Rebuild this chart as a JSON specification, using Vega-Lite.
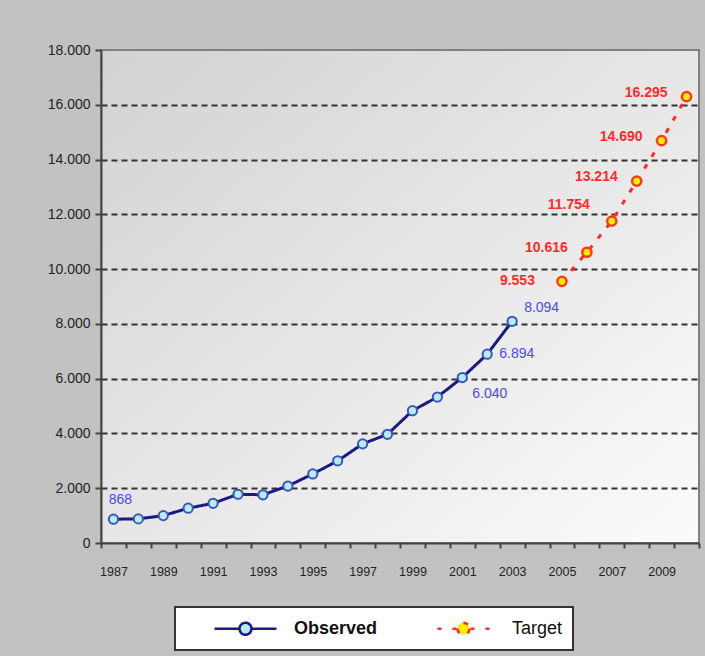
{
  "$schema": "https://vega.github.io/schema/vega-lite/v6.json",
  "width": 598,
  "height": 493,
  "autosize": {"type": "none"},
  "padding": {"left": 101, "top": 50, "right": 6, "bottom": 113},
  "background": "#c2c2c2",
  "config": {
    "locale": {"number": {"decimal": ",", "thousands": ".", "grouping": [3], "currency": ["", ""]}},
    "font": "Liberation Sans",
    "view": {
      "fill": {"gradient": "linear", "x1": 0, "y1": 0, "x2": 1, "y2": 1,
        "stops": [{"offset": 0, "color": "#d2d2d2"}, {"offset": 1, "color": "#fbfbfb"}]},
      "stroke": "#808080",
      "strokeWidth": 2
    }
  },
  "data": {
    "values": [
      {"year": 1987, "value": 868, "series": "Observed"},
      {"year": 1988, "value": 880, "series": "Observed"},
      {"year": 1989, "value": 1000, "series": "Observed"},
      {"year": 1990, "value": 1270, "series": "Observed"},
      {"year": 1991, "value": 1450, "series": "Observed"},
      {"year": 1992, "value": 1780, "series": "Observed"},
      {"year": 1993, "value": 1760, "series": "Observed"},
      {"year": 1994, "value": 2080, "series": "Observed"},
      {"year": 1995, "value": 2520, "series": "Observed"},
      {"year": 1996, "value": 3000, "series": "Observed"},
      {"year": 1997, "value": 3620, "series": "Observed"},
      {"year": 1998, "value": 3970, "series": "Observed"},
      {"year": 1999, "value": 4830, "series": "Observed"},
      {"year": 2000, "value": 5330, "series": "Observed"},
      {"year": 2001, "value": 6040, "series": "Observed"},
      {"year": 2002, "value": 6894, "series": "Observed"},
      {"year": 2003, "value": 8094, "series": "Observed"},
      {"year": 2005, "value": 9553, "series": "Target"},
      {"year": 2006, "value": 10616, "series": "Target"},
      {"year": 2007, "value": 11754, "series": "Target"},
      {"year": 2008, "value": 13214, "series": "Target"},
      {"year": 2009, "value": 14690, "series": "Target"},
      {"year": 2010, "value": 16295, "series": "Target"}
    ]
  },
  "encoding": {
    "x": {
      "field": "year", "type": "quantitative",
      "scale": {"domain": [1986.5, 2010.5], "nice": false, "zero": false},
      "axis": {
        "title": null, "grid": false,
        "values": [1986.5, 1987.5, 1988.5, 1989.5, 1990.5, 1991.5, 1992.5, 1993.5, 1994.5, 1995.5, 1996.5, 1997.5, 1998.5, 1999.5, 2000.5, 2001.5, 2002.5, 2003.5, 2004.5, 2005.5, 2006.5, 2007.5, 2008.5, 2009.5, 2010.5],
        "labelExpr": "((datum.value + 0.5) % 2 == 1 && datum.value < 2010) ? format(datum.value + 0.5, 'd') : ''",
        "labelOffset": 12.5,
        "tickSize": 5, "tickWidth": 2, "tickColor": "#444",
        "domainColor": "#444", "domainWidth": 2,
        "labelFontSize": 12.5, "labelColor": "#222", "labelPadding": 17,
        "labelFlush": false, "labelOverlap": false
      }
    },
    "y": {
      "field": "value", "type": "quantitative",
      "scale": {"domain": [0, 18000], "nice": false},
      "axis": {
        "title": null, "values": [0, 2000, 4000, 6000, 8000, 10000, 12000, 14000, 16000, 18000],
        "format": ",.0f",
        "grid": true, "gridColor": "#333", "gridWidth": 2, "gridDash": [6, 4],
        "gridOpacity": {"condition": {"test": "datum.value == 0 || datum.value == 18000", "value": 0}, "value": 1},
        "tickSize": 6, "tickWidth": 2, "tickColor": "#444",
        "domainColor": "#444", "domainWidth": 2,
        "labelFontSize": 14, "labelColor": "#222", "labelPadding": 5
      }
    }
  },
  "layer": [
    {
      "mark": {"type": "line", "strokeWidth": 3},
      "encoding": {
        "color": {
          "field": "series", "type": "nominal",
          "scale": {"domain": ["Observed", "Target"], "range": ["#1a1a85", "#ff2a2a"]},
          "legend": {
            "orient": "none", "legendX": 74, "legendY": 557,
            "direction": "horizontal", "title": null,
            "fillColor": "#ffffff", "strokeColor": "#333333", "padding": 10,
            "symbolSize": 400, "labelOffset": 86, "columnPadding": 25,
            "labelFontSize": 18, "labelColor": "#111",
            "encode": {
              "legend": {"update": {"strokeWidth": {"value": 2}}},
              "symbols": {"update": {
                "shape": {"signal": "datum.value == 'Observed' ? 'M 1.8 0 L 4.3 0 M 5.5 0 L 8 0 M 5.5 0 A 0.6 0.6 0 1 1 4.3 0 A 0.6 0.6 0 1 1 5.5 0 Z' : 'M 2.3 0 L 2.7 0 M 3.8 0 L 4.2 0 M 5.6 0 L 6 0 M 7.1 0 L 7.5 0 M 5.5 0 A 0.6 0.6 0 1 1 4.3 0 A 0.6 0.6 0 1 1 5.5 0 Z'"},
                "fill": {"signal": "datum.value == 'Observed' ? '#b4ecf8' : '#ffee00'"},
                "fillOpacity": {"value": 1},
                "stroke": {"signal": "datum.value == 'Observed' ? '#1a1a85' : '#ff2a2a'"},
                "strokeWidth": {"value": 2.5}
              }},
              "labels": {"update": {
                "fontWeight": {"signal": "datum.value == 'Observed' ? 'bold' : 'normal'"}
              }}
            }
          }
        },
        "strokeDash": {
          "field": "series", "type": "nominal",
          "scale": {"domain": ["Observed", "Target"], "range": [[1, 0], [5, 9]]},
          "legend": null
        }
      }
    },
    {
      "transform": [{"filter": "datum.series == 'Observed'"}],
      "mark": {"type": "point", "filled": true, "size": 85, "fill": "#b4ecf8", "stroke": "#3c56b8", "strokeWidth": 2, "opacity": 1}
    },
    {
      "transform": [{"filter": "datum.series == 'Target'"}],
      "mark": {"type": "point", "filled": true, "size": 85, "fill": "#ffee00", "stroke": "#ff3a1a", "strokeWidth": 2.5, "opacity": 1}
    },
    {
      "transform": [{"filter": "datum.series == 'Target' && datum.year != 2005 && datum.year != 2007"}],
      "mark": {"type": "text", "align": "right", "baseline": "middle", "dx": -19, "dy": -4,
        "fontSize": 14, "fontWeight": "bold", "color": "#ff2a2a"},
      "encoding": {"text": {"field": "value", "type": "quantitative", "format": ","}}
    },
    {
      "transform": [{"filter": "datum.year == 2005"}],
      "mark": {"type": "text", "align": "right", "baseline": "middle", "dx": -27, "dy": 0,
        "fontSize": 14, "fontWeight": "bold", "color": "#ff2a2a"},
      "encoding": {"text": {"field": "value", "type": "quantitative", "format": ","}}
    },
    {
      "transform": [{"filter": "datum.year == 2007"}],
      "mark": {"type": "text", "align": "right", "baseline": "middle", "dx": -22, "dy": -16,
        "fontSize": 14, "fontWeight": "bold", "color": "#ff2a2a"},
      "encoding": {"text": {"field": "value", "type": "quantitative", "format": ","}}
    },
    {
      "transform": [{"filter": "datum.year == 1987"}],
      "mark": {"type": "text", "align": "center", "baseline": "middle", "dx": 7, "dy": -19, "fontSize": 14, "color": "#4848ff"},
      "encoding": {"text": {"field": "value", "type": "quantitative", "format": ","}}
    },
    {
      "transform": [{"filter": "datum.year == 2001"}],
      "mark": {"type": "text", "align": "left", "baseline": "middle", "dx": 10, "dy": 16, "fontSize": 14, "color": "#4848ff"},
      "encoding": {"text": {"field": "value", "type": "quantitative", "format": ","}}
    },
    {
      "transform": [{"filter": "datum.year == 2002"}],
      "mark": {"type": "text", "align": "left", "baseline": "middle", "dx": 12, "dy": 0, "fontSize": 14, "color": "#4848ff"},
      "encoding": {"text": {"field": "value", "type": "quantitative", "format": ","}}
    },
    {
      "transform": [{"filter": "datum.year == 2003"}],
      "mark": {"type": "text", "align": "left", "baseline": "middle", "dx": 12, "dy": -13, "fontSize": 14, "color": "#4848ff"},
      "encoding": {"text": {"field": "value", "type": "quantitative", "format": ","}}
    }
  ]
}
